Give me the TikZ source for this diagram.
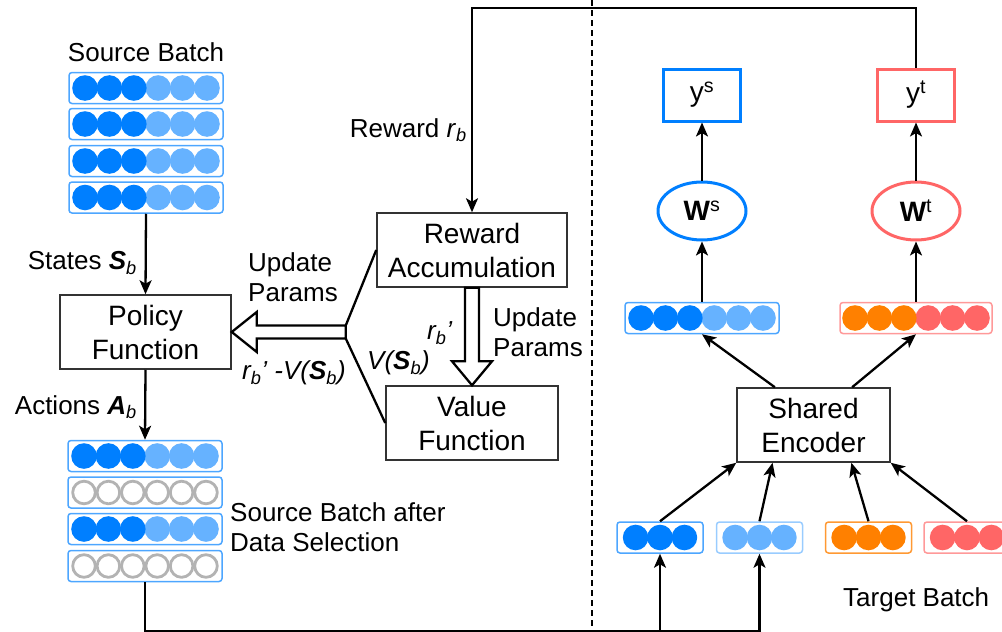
\documentclass[tikz,border=0pt]{standalone}
\usepackage{fontspec}
\setmainfont{Liberation Sans}
\usetikzlibrary{arrows.meta,calc,shapes.geometric}
\definecolor{dblue}{HTML}{007FFF}
\definecolor{lblue}{HTML}{66B2FF}
\definecolor{dorange}{HTML}{FF8000}
\definecolor{lred}{HTML}{FF6666}
\definecolor{bordblue}{HTML}{4DA6FF}
\definecolor{bordlblue}{HTML}{99CCFF}
\definecolor{bordorange}{HTML}{FF9933}
\definecolor{bordred}{HTML}{FF9999}
\definecolor{hollowgray}{HTML}{B3B3B3}
\definecolor{boxline}{HTML}{333333}
\tikzset{
  box/.style={draw=boxline, line width=1.5pt, minimum width=#1, minimum height=74pt,
    align=center, font=\fontsize{28}{34}\selectfont, inner sep=0pt},
  lbl/.style={font=\fontsize{26}{30}\selectfont, align=left, inner sep=0pt},
  conn/.style={line width=2.3pt, -{Stealth[length=14pt,width=12pt,inset=3.5pt]}},
  plain/.style={line width=2.3pt},
  bar/.style={draw=#1, line width=1.5pt, rounded corners=3pt, minimum height=31pt, inner sep=0pt},
  hollow/.style={draw=black, line width=2.3pt, fill=white, line join=miter},
  outbox/.style={draw=#1, line width=3pt, minimum width=77pt, minimum height=52pt,
    inner sep=0pt, font=\fontsize{28}{34}\selectfont},
  outell/.style={ellipse, draw=#1, line width=3pt, minimum width=88pt, minimum height=58pt,
    inner sep=0pt, font=\fontsize{28}{34}\selectfont},
}
% name, x, y, border colour, width, count, colours (right to left)
\newcommand\mkbar[7]{%
  \node[bar=#4, minimum width=#5] (#1) at (#2,#3) {};
  \foreach \cl [count=\i] in {#7} {
    \fill[\cl] ($(#1.center)+({((#6+1)/2-\i)*24.4},0)$) circle (12.8pt);
  }%
}
% empty (deselected) row
\newcommand\mkhbar[3]{%
  \node[bar=bordblue, minimum width=154pt] (#1) at (#2,#3) {};
  \foreach \i in {1,...,6} {
    \filldraw[fill=white, draw=hollowgray, line width=2.8pt]
      ($(#1.center)+({(3.5-\i)*24.4},0)$) circle (11.3pt);
  }%
}
\begin{document}
\begin{tikzpicture}[x=1pt,y=-1pt]
\useasboundingbox (0,0) rectangle (1002,632);

% divider
\draw[line width=2.4pt, dash pattern=on 6pt off 4pt] (592,0) -- (592,632);

% ---------- left: source batch ----------
\node[lbl] (srclbl) at (146,52) {Source Batch};
\mkbar{src1}{146}{88}{bordblue}{154pt}{6}{lblue,lblue,lblue,dblue,dblue,dblue}
\mkbar{src2}{146}{124}{bordblue}{154pt}{6}{lblue,lblue,lblue,dblue,dblue,dblue}
\mkbar{src3}{146}{161}{bordblue}{154pt}{6}{lblue,lblue,lblue,dblue,dblue,dblue}
\mkbar{src4}{146}{197.5}{bordblue}{154pt}{6}{lblue,lblue,lblue,dblue,dblue,dblue}

\node[box=171pt] (policy) at (145.5,332) {Policy\\Function};

\mkbar{sel1}{145}{456}{bordblue}{154pt}{6}{lblue,lblue,lblue,dblue,dblue,dblue}
\mkhbar{sel2}{145}{492.5}
\mkbar{sel3}{145}{529}{bordblue}{154pt}{6}{lblue,lblue,lblue,dblue,dblue,dblue}
\mkhbar{sel4}{145}{566}

\node[box=190pt] (reward) at (472,250) {Reward\\Accumulation};
\node[box=172pt] (value) at (472,423) {Value\\Function};

% ---------- right: target side ----------
\node[outbox=dblue] (ys) at (702,95) {y\textsuperscript{s}};
\node[outbox=lred] (yt) at (916,95) {y\textsuperscript{t}};
\node[outell=dblue] (Ws) at (702,211) {\textbf{W}\textsuperscript{s}};
\node[outell=lred] (Wt) at (916,211) {\textbf{W}\textsuperscript{t}};
\mkbar{fs}{702}{318}{bordblue}{154pt}{6}{lblue,lblue,lblue,dblue,dblue,dblue}
\mkbar{ft}{916}{318}{bordred}{152pt}{6}{lred,lred,lred,dorange,dorange,dorange}
\node[box=153pt] (enc) at (813.5,425) {Shared\\Encoder};
\mkbar{tb1}{660}{537.5}{bordblue}{86pt}{3}{dblue,dblue,dblue}
\mkbar{tb2}{759.5}{537.5}{bordlblue}{86pt}{3}{lblue,lblue,lblue}
\mkbar{tb3}{868.5}{537.5}{bordorange}{86pt}{3}{dorange,dorange,dorange}
\mkbar{tb4}{967}{537.5}{bordred}{86pt}{3}{lred,lred,lred}
\node[lbl, anchor=west] (tgtlbl) at (843,600) {Target Batch};

% ---------- connectors ----------
\coordinate (top) at (0,8);
\coordinate (bot) at (0,631);

\draw[conn] (src4.south) -- (policy.north);
\node[lbl, anchor=east] (stateslbl) at (137,263) {States \textbf{\textit{S}}\textsubscript{\textit{b}}};
\draw[conn] (policy.south) -- (sel1.north);
\node[lbl, anchor=east] (actlbl) at (137,407) {Actions \textbf{\textit{A}}\textsubscript{\textit{b}}};
\node[lbl, anchor=west] (sellbl) at (230,527) {Source Batch after\\Data Selection};

\draw[conn] (sel4.south) |- (tb2.south |- bot) -- (tb2.south);
\draw[conn] (tb1.south |- bot) -- (tb1.south);

\draw[conn] (tb1.north) -- (enc.south west);
\draw[conn] (tb2.north) -- ($(enc.south west)!0.235!(enc.south east)$);
\draw[conn] (tb3.north) -- ($(enc.south west)!0.745!(enc.south east)$);
\draw[conn] (tb4.north) -- (enc.south east);
\draw[conn] ($(enc.north west)!0.25!(enc.north east)$) -- (fs.south);
\draw[conn] ($(enc.north west)!0.75!(enc.north east)$) -- (ft.south);
\draw[conn] (fs.north) -- (Ws.south);
\draw[conn] (Ws.north) -- (ys.south);
\draw[conn] (ft.north) -- (Wt.south);
\draw[conn] (Wt.north) -- (yt.south);

\draw[conn] (yt.north) -- (yt.north |- top) -| (reward.north);
\node[lbl, anchor=east] (rewlbl) at (467,130) {Reward \textit{r}\textsubscript{\textit{b}}};

% hollow arrow to policy
\coordinate (split) at ($(policy.east)+(114,0)$);
\draw[hollow] ($(split)+(0,-6.5)$) -- ($(policy.east)+(25,-6.5)$) -- ($(policy.east)+(25,-20)$)
  -- (policy.east) -- ($(policy.east)+(25,20)$) -- ($(policy.east)+(25,6.5)$)
  -- ($(split)+(0,6.5)$) -- cycle;
\draw[plain] ($(split)+(0,-6.5)$) -- (reward.west);
\draw[plain] ($(split)+(0,6.5)$) -- (value.west);

% hollow arrow reward -> value
\draw[hollow] ($(reward.south)+(-7,0)$) -- ($(value.north)+(-7,-24)$) -- ($(value.north)+(-20,-24)$)
  -- (value.north) -- ($(value.north)+(20,-24)$) -- ($(value.north)+(7,-24)$)
  -- ($(reward.south)+(7,0)$) -- cycle;

\node[lbl, anchor=west] (upd1) at (248,277) {Update\\Params};
\node[lbl, anchor=west] (advlbl) at (242,373) {\textit{r\textsubscript{b}' -V(\textbf{S}\textsubscript{b})}};
\node[lbl, anchor=west] (vlbl) at (367,363) {\textit{V(\textbf{S}\textsubscript{b})}};
\node[lbl, anchor=west] (rplbl) at (427,333) {\textit{r\textsubscript{b}'}};
\node[lbl, anchor=west] (upd2) at (493,332) {Update\\Params};
\end{tikzpicture}
\end{document}
